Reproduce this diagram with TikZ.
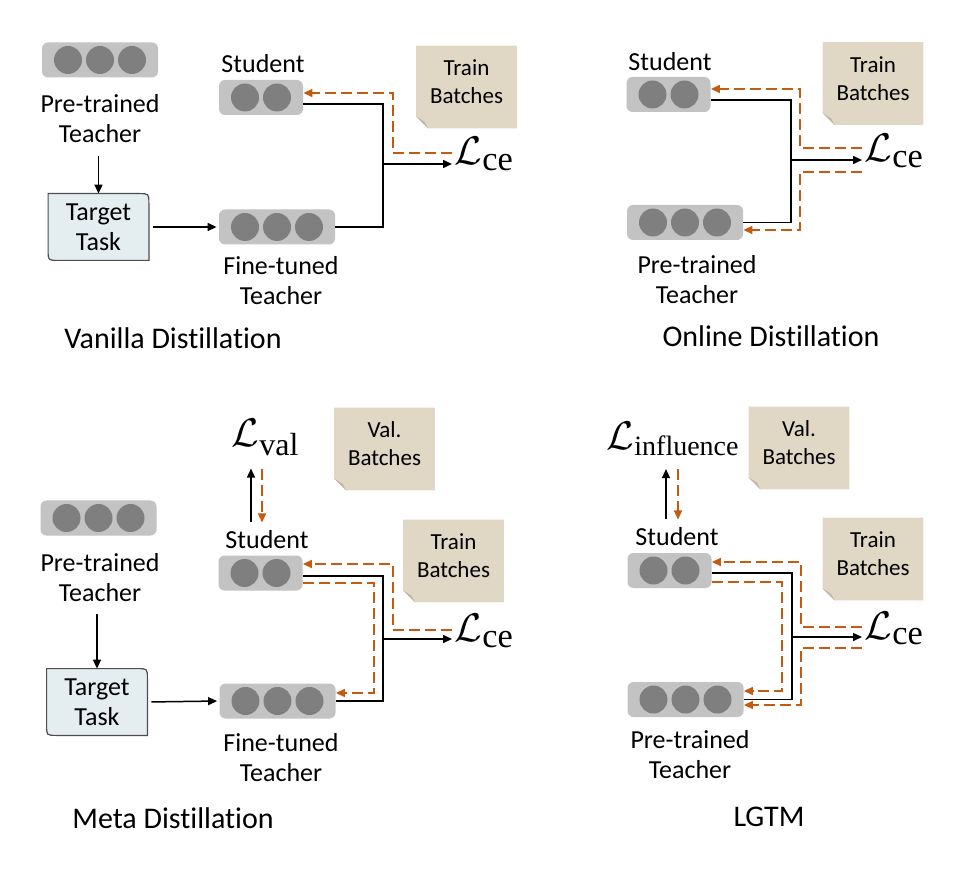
\documentclass[tikz,border=0pt]{standalone}
\usepackage[no-math]{fontspec}
\setmainfont{Carlito}[RawFeature={-liga,-clig,-rlig,-calt,-dlig}]
\newfontfamily\subserif{Liberation Serif}
\usetikzlibrary{calc,arrows.meta,backgrounds}
\definecolor{blkgray}{HTML}{C3C3C3}
\definecolor{circgray}{HTML}{7F7F7F}
\definecolor{ttfill}{HTML}{E4EEF1}
\definecolor{ttline}{HTML}{4D4D4D}
\definecolor{notecol}{HTML}{E0D7C4}
\definecolor{foldcol}{HTML}{BFB6A6}
\definecolor{orangec}{HTML}{C55A11}
\newcommand\losssub[2]{\hbox{\fontsize{#1}{#1}\subserif #2}}
\newcommand\distword{Dist\kern0pt il\kern0pt lat\kern0pt ion}
\tikzset{
  blockbox/.style={fill=blkgray, rounded corners=3pt, minimum height=17.5pt, inner sep=0pt},
  blkthree/.style={blockbox, minimum width=58pt},
  blktwo/.style={blockbox, minimum width=42pt},
  circ/.style={fill=circgray},
  lab/.style={font=\fontsize{13}{15}\selectfont, align=center, inner sep=0pt},
  ttl/.style={font=\fontsize{15}{18}\selectfont, inner sep=0pt},
  notetxt/.style={font=\fontsize{11.5}{14}\selectfont, align=center, inner sep=0pt},
  notebg/.style={minimum width=50pt, minimum height=41pt, inner sep=0pt},
  ttnode/.style={font=\fontsize{13}{15}\selectfont, align=center, minimum width=50pt, minimum height=33pt, inner sep=0pt},
  ttdraw/.style={fill=ttfill, draw=ttline, line width=0.6pt},
  lossnode/.style={scale=2, inner sep=0.5pt, anchor=base west},
  conn/.style={line width=0.75pt, black},
  connarr/.style={conn, -{Triangle[length=4.5pt,width=4pt]}},
  orng/.style={line width=0.75pt, orangec, dash pattern=on 5.5pt off 2.5pt, -{Triangle[length=4.5pt,width=4pt]}},
}
\newcommand\threeblk[2]{\node[blkthree] (#1) at (#2) {};
  \foreach \dx in {-32,0,32} {\fill[circ] ($(#1.center)+(\dx,0)$) circle[radius=7pt];}}
\newcommand\twoblk[2]{\node[blktwo] (#1) at (#2) {};
  \foreach \dx in {-16,16} {\fill[circ] ($(#1.center)+(\dx,0)$) circle[radius=7pt];}}
\newcommand\ttbox[2]{\node[ttnode] (#1) at (#2) {Target\\Task};
  \begin{scope}[on background layer]
  \draw[ttdraw] (#1.north west) -- ($(#1.north east)+(-10,0)$) .. controls (#1.north east) .. ($(#1.north east)+(0,10)$) -- (#1.south east) -- ($(#1.south west)+(10,0)$) .. controls (#1.south west) .. ($(#1.south west)+(0,-10)$) -- cycle;
  \end{scope}}
\newcommand\notebox[3]{\node[notebg] (#1) at (#2) {};
  \node[notetxt] (#1t) at ($(#1.center)+(0,-5)$) {#3};
  \begin{scope}[on background layer]
  \fill[notecol] (#1.north west) -- (#1.north east) -- (#1.south east) -- ($(#1.south west)+(12,0)$) -- ($(#1.south west)+(0,-12)$) -- cycle;
  \fill[foldcol] ($(#1.south west)+(0,-12)$) -- ($(#1.south west)+(12,0)$) -- ($(#1.south west)+(8.4,-6.6)$) -- cycle;
  \end{scope}}
\begin{document}
\begin{tikzpicture}[x=0.5pt,y=-0.5pt]
\begin{scope}[on background layer]
\fill[white] (0,0) rectangle (962,870);
\end{scope}
\useasboundingbox (0,0) rectangle (962,870);

% ---------------- Panel 1: Vanilla Distillation
\threeblk{pt1}{100,60}
\node[lab] (pt1lab) at (100,119) {Pre-trained\\Teacher};
\ttbox{tt1}{98.5,227}
\twoblk{s1}{261,97.5}
\node[lab] (s1lab) at (263,64) {Student};
\threeblk{ft1}{277,227}
\node[lab] (ft1lab) at (281,281) {Fine-tuned\\Teacher};
\notebox{tb1}{466.5,87}{Train\\Batches}
\node[lossnode] (lce1) at (452,165) {$\mathcal{L}_{\losssub{8.6}{ce}}$};
\node[ttl] (title1) at (173,338) {Vanilla \distword};
\draw[connarr, shorten <=6pt] (pt1lab.south -| tt1.north) -- (tt1.north);
\draw[connarr, shorten <=2pt, shorten >=1pt] (tt1.east) -- (ft1.west);
\coordinate (j1) at (383,164);
\draw[conn] (s1.east |- 0,104) -| (j1) |- (ft1.east);
\draw[connarr] (j1) -- (lce1.west |- j1);
\draw[orng] (lce1.west |- 0,153) -| (393,93) -- (s1.east |- 0,93);

% ---------------- Panel 2: Online Distillation
\twoblk{s2}{668.5,94.5}
\node[lab] (s2lab) at (670,62) {Student};
\threeblk{pt2}{685,222.5}
\node[lab] (pt2lab) at (697,279.5) {Pre-trained\\Teacher};
\notebox{tb2}{873,83.5}{Train\\Batches}
\node[lossnode] (lce2) at (862,162) {$\mathcal{L}_{\losssub{8.6}{ce}}$};
\node[ttl] (title2) at (771,336) {Online \distword};
\coordinate (j2) at (791,160);
\draw[conn] (s2.east |- 0,100) -| (j2) |- (pt2.east);
\draw[connarr] (j2) -- (lce2.west |- j2);
\draw[orng] (lce2.west |- 0,148) -| (800,89) -- (s2.east |- 0,89);
\draw[orng] (lce2.west |- 0,172) -| (800,230) -- (pt2.east |- 0,230);

% ---------------- Panel 3: Meta Distillation
\threeblk{pt3}{98.5,518}
\node[lab] (pt3lab) at (100,577.5) {Pre-trained\\Teacher};
\ttbox{tt3}{97,702}
\twoblk{s3}{260.5,573}
\node[lab] (s3lab) at (267,540) {Student};
\threeblk{ft3}{277.5,701}
\node[lab] (ft3lab) at (281,757.5) {Fine-tuned\\Teacher};
\notebox{vb3}{384.5,449}{Val.\\Batches}
\notebox{tb3}{453.5,561}{Train\\Batches}
\node[lossnode] (lval) at (229,447) {$\mathcal{L}_{\losssub{8}{val}}$};
\node[lossnode] (lce3) at (452,641) {$\mathcal{L}_{\losssub{8.6}{ce}}$};
\node[ttl] (title3) at (173,818) {Meta \distword};
\draw[connarr, shorten <=6pt] (pt3lab.south -| tt3.north) -- (tt3.north);
\draw[connarr, shorten <=2pt, shorten >=1pt] (tt3.east) -- (ft3.west);
\draw[connarr, shorten <=4pt, shorten >=5pt] (s3lab.north -| 251,0) -- (lval.south -| 251,0);
\draw[orng, shorten <=5pt, shorten >=4pt] (lval.south -| 262,0) -- (s3lab.north -| 262,0);
\coordinate (j3) at (383,639);
\draw[conn] (s3.east |- 0,576) -| (j3) |- (ft3.east);
\draw[connarr] (j3) -- (lce3.west |- j3);
\draw[orng] (lce3.west |- 0,630) -| (393,564) -- (s3.east |- 0,564);
\draw[orng] (s3.east |- 0,583) -| (374,693) -- (ft3.east |- 0,693);

% ---------------- Panel 4: LGTM
\twoblk{s4}{669.5,570.5}
\node[lab] (s4lab) at (677,537) {Student};
\threeblk{pt4}{685.5,699.5}
\node[lab] (pt4lab) at (690,754.5) {Pre-trained\\Teacher};
\notebox{vb4}{799,448}{Val.\\Batches}
\notebox{tb4}{873,559}{Train\\Batches}
\node[lossnode] (linf) at (604,450) {$\mathcal{L}_{\losssub{7}{influence}}$};
\node[lossnode] (lce4) at (862,639) {$\mathcal{L}_{\losssub{8.6}{ce}}$};
\node[ttl] (title4) at (769,817) {LGTM};
\draw[connarr, shorten <=4pt, shorten >=5pt] (s4lab.north -| 666,0) -- (linf.south -| 666,0);
\draw[orng, shorten <=5pt, shorten >=4pt] (linf.south -| 678,0) -- (s4lab.north -| 678,0);
\coordinate (j4) at (792,637);
\draw[conn] (s4.east |- 0,573) -| (j4) |- (pt4.east);
\draw[connarr] (j4) -- (lce4.west |- j4);
\draw[orng] (lce4.west |- 0,627) -| (801,562) -- (s4.east |- 0,562);
\draw[orng] (s4.east |- 0,582) -| (782,691) -- (pt4.east |- 0,691);
\draw[orng] (lce4.west |- 0,648) -| (801,705) -- (pt4.east |- 0,705);
\end{tikzpicture}
\end{document}
